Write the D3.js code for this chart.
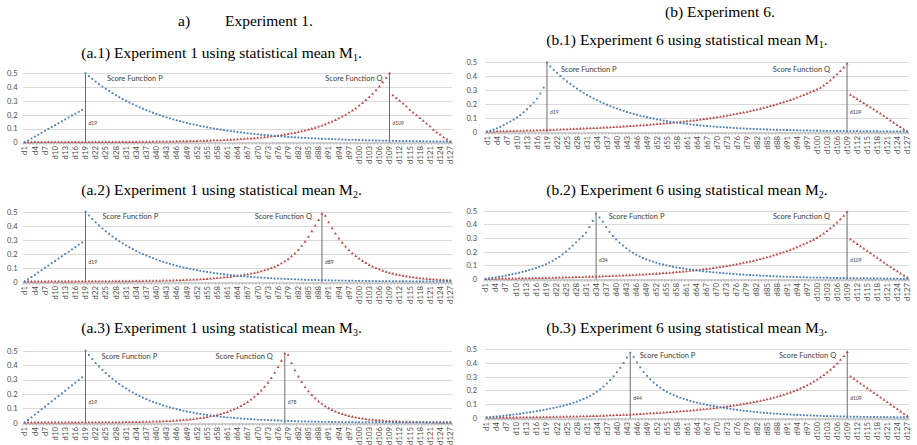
<!DOCTYPE html>
<html><head><meta charset="utf-8">
<script src="https://cdn.jsdelivr.net/npm/d3@7/dist/d3.min.js"></script>
<style>body{margin:0;background:#fff}svg{display:block}</style>
</head><body>
<svg id="c" width="917" height="445"></svg>
<script>
const categories = [
"d1","d2","d3","d4","d5","d6","d7","d8","d9","d10",
"d11","d12","d13","d14","d15","d16","d17","d18","d19","d20",
"d21","d22","d23","d24","d25","d26","d27","d28","d29","d30",
"d31","d32","d33","d34","d35","d36","d37","d38","d39","d40",
"d41","d42","d43","d44","d45","d46","d47","d48","d49","d50",
"d51","d52","d53","d54","d55","d56","d57","d58","d59","d60",
"d61","d62","d63","d64","d65","d66","d67","d68","d69","d70",
"d71","d72","d73","d74","d75","d76","d77","d78","d79","d80",
"d81","d82","d83","d84","d85","d86","d87","d88","d89","d90",
"d91","d92","d93","d94","d95","d96","d97","d98","d99","d100",
"d101","d102","d103","d104","d105","d106","d107","d108","d109","d110",
"d111","d112","d113","d114","d115","d116","d117","d118","d119","d120",
"d121","d122","d123","d124","d125","d126","d127"];

// (a.1) Experiment 1, M1
const A1P = [0.000,0.014,0.028,0.041,0.055,0.069,0.083,0.097,0.111,0.124,0.138,0.152,0.166,0.180,0.194,0.207,0.221,0.235,
0.500,0.479,0.459,0.440,0.422,0.404,0.388,0.372,0.356,0.341,
0.327,0.314,0.301,0.288,0.276,0.265,0.254,0.243,0.233,0.224,
0.214,0.205,0.197,0.189,0.181,0.173,0.166,0.159,0.153,0.146,
0.140,0.134,0.129,0.124,0.118,0.114,0.109,0.104,0.100,0.096,
0.092,0.088,0.084,0.081,0.078,0.074,0.071,0.068,0.065,0.063,
0.060,0.058,0.055,0.053,0.051,0.049,0.047,0.045,0.043,0.041,
0.039,0.038,0.036,0.035,0.033,0.032,0.031,0.029,0.028,0.027,
0.026,0.025,0.024,0.023,0.022,0.021,0.020,0.019,0.018,0.018,
0.017,0.016,0.016,0.015,0.014,0.014,0.013,0.013,0.012,0.012,
0.011,0.011,0.010,0.010,0.009,0.009,0.009,0.008,0.008,0.008,
0.007,0.007,0.007,0.006,0.006,0.006,0.006,0.005,0.005];
const A1Q = [0.000,0.000,0.000,0.001,0.001,0.001,0.001,0.001,
0.001,0.001,0.001,0.001,0.001,0.001,0.001,0.001,0.001,0.001,0.001,0.001,0.001,0.001,
0.002,0.002,0.002,0.002,0.002,0.002,0.002,0.002,0.002,0.002,0.002,
0.002,0.003,0.003,0.003,0.003,
0.004,0.004,0.004,0.004,0.005,0.005,0.005,0.006,0.006,0.007,0.007,
0.008,0.008,0.009,0.010,0.010,0.011,0.012,0.013,0.014,0.014,
0.016,0.017,0.018,0.019,0.021,0.022,0.024,0.026,0.027,0.029,
0.032,0.034,0.036,0.039,0.042,0.045,0.048,0.052,0.056,0.060,
0.064,0.069,0.074,0.079,0.085,0.092,0.098,0.105,0.113,0.121,
0.130,0.140,0.150,0.161,0.173,0.186,0.199,0.214,0.230,0.246,
0.265,0.284,0.305,0.327,0.351,0.377,0.404,0.434,0.466,0.500,
0.340,0.320,0.300,0.280,0.260,0.235,0.215,0.195,0.175,0.155,0.135,0.115,0.090,0.070,0.055,0.035,0.020,0.005];

// (a.2) Experiment 1, M2
const A2P = [0.000,0.016,0.033,0.049,0.066,0.082,0.099,0.115,0.132,0.148,0.165,0.181,0.198,0.214,0.231,0.247,0.264,0.280,
0.500,0.473,0.448,0.424,0.402,0.380,0.360,0.341,0.323,0.306,
0.289,0.274,0.259,0.246,0.233,0.220,0.208,0.197,0.187,0.177,
0.168,0.159,0.150,0.142,0.135,0.127,0.121,0.114,0.108,0.102,
0.097,0.092,0.087,0.082,0.078,0.074,0.070,0.066,0.062,0.059,
0.056,0.053,0.050,0.047,0.045,0.043,0.040,0.038,0.036,0.034,
0.032,0.031,0.029,0.028,0.026,0.025,0.023,0.022,0.021,0.020,
0.019,0.018,0.017,0.016,0.015,0.014,0.013,0.013,0.012,0.011,
0.011,0.010,0.010,0.009,0.009,0.008,0.008,0.007,0.007,0.007,
0.006,0.006,0.006,0.005,0.005,0.005,0.004,0.004,0.004,0.004,
0.004,0.003,0.003,0.003,0.003,0.003,0.003,0.002,0.002,0.002,
0.002,0.002,0.002,0.002,0.002,0.002,0.002,0.002,0.002];
const A2Q = [0.001,0.001,0.001,0.001,0.001,0.001,0.001,0.001,0.001,0.001,0.001,0.001,0.001,0.001,0.001,0.001,
0.002,0.002,0.002,0.002,0.002,0.002,0.002,0.002,0.002,0.002,
0.002,0.003,0.003,0.003,0.003,0.003,0.004,0.004,0.004,0.004,0.005,0.005,0.005,
0.006,0.006,0.007,0.007,0.008,0.008,0.009,0.010,0.011,0.012,
0.013,0.014,0.015,0.016,0.018,0.019,0.021,0.023,0.025,0.027,
0.030,0.032,0.035,0.038,0.041,0.044,0.048,0.052,0.057,0.062,
0.067,0.073,0.080,0.088,0.096,0.106,0.117,0.130,0.145,0.160,
0.180,0.200,0.225,0.255,0.285,0.320,0.360,0.400,0.440,0.485,
0.470,0.423,0.381,0.343,0.308,0.278,0.250,0.225,0.202,0.182,
0.164,0.147,0.133,0.119,0.107,0.097,0.087,0.078,0.070,0.063,
0.057,0.051,0.046,0.042,0.037,0.034,0.030,0.027,0.024,0.022,
0.020,0.018,0.016,0.014,0.013,0.012,0.010,0.009];

// (a.3) Experiment 1, M3
const A3P = [0.000,0.019,0.037,0.056,0.074,0.093,0.111,0.130,0.148,0.167,0.185,0.204,0.222,0.241,0.259,0.278,0.296,0.315,
0.500,0.470,0.442,0.415,0.390,0.367,0.345,0.324,0.305,0.286,
0.269,0.253,0.238,0.223,0.210,0.197,0.185,0.174,0.164,0.154,
0.145,0.136,0.128,0.120,0.113,0.106,0.100,0.094,0.088,0.083,
0.078,0.073,0.069,0.064,0.061,0.057,0.054,0.050,0.047,0.045,
0.042,0.039,0.037,0.035,0.033,0.031,0.029,0.027,0.026,0.024,
0.023,0.021,0.020,0.019,0.018,0.017,0.016,0.015,0.014,0.013,
0.012,0.011,0.011,0.010,0.009,0.009,0.008,0.008,0.007,0.007,
0.006,0.006,0.006,0.005,0.005,0.005,0.004,0.004,0.004,0.004,
0.003,0.003,0.003,0.003,0.003,0.003,0.003,0.003,0.003,0.003,
0.003,0.002,0.002,0.002,0.002,0.002,0.002,0.002,0.002,0.002,
0.002,0.002,0.002,0.002,0.002,0.002,0.002,0.002,0.002];
const A3Q = [0.001,0.001,0.001,0.001,0.001,0.001,0.001,0.001,0.001,0.001,0.001,0.001,0.001,0.001,0.001,0.001,0.001,
0.002,0.002,0.002,0.002,0.002,0.002,0.002,0.002,0.002,0.002,0.002,0.002,
0.002,0.003,0.003,0.003,0.004,0.004,0.005,0.005,0.006,0.007,0.007,
0.008,0.009,0.010,0.011,0.013,0.014,0.016,0.018,0.020,0.022,
0.025,0.028,0.031,0.034,0.038,0.043,0.048,0.053,0.059,0.066,
0.074,0.083,0.092,0.103,0.115,0.128,0.143,0.160,0.179,0.199,
0.222,0.248,0.277,0.309,0.345,0.385,0.430,0.480,
0.470,0.413,0.363,0.319,0.281,0.247,0.217,0.191,0.168,0.147,
0.130,0.114,0.100,0.088,0.077,0.068,0.060,0.053,0.046,0.041,
0.036,0.031,0.028,0.024,0.021,0.019,0.017,0.015,0.013,0.011,
0.010,0.009,0.008,0.007,0.006,0.005,0.005,0.004,0.004,0.003,
0.003,0.002,0.002,0.002,0.002,0.001,0.001,0.001,0.001];

// (b.1) Experiment 6, M1
const B1P = [0.000,0.008,0.016,0.024,0.035,0.047,0.060,0.073,0.087,0.102,0.120,0.140,0.162,0.186,0.210,0.238,0.275,0.318,
0.500,
0.470,0.446,0.424,0.402,0.382,0.362,0.344,0.327,0.310,0.294,
0.280,0.265,0.252,0.239,0.227,0.216,0.205,0.194,0.184,0.175,
0.166,0.158,0.150,0.142,0.135,0.128,0.122,0.115,0.110,0.104,
0.099,0.094,0.089,0.085,0.080,0.076,0.072,0.069,0.065,0.062,
0.059,0.056,0.053,0.050,0.048,0.045,0.043,0.041,0.039,0.037,
0.035,0.033,0.032,0.030,0.029,0.027,0.026,0.024,0.023,0.022,
0.021,0.020,0.019,0.018,0.017,0.016,0.015,0.014,0.014,0.013,
0.012,0.012,0.011,0.011,0.010,0.009,0.009,0.009,0.008,0.008,
0.007,0.007,0.006,0.006,0.006,0.005,0.005,0.005,0.005,0.004,
0.004,0.004,0.004,0.003,0.003,0.003,0.003,0.003,0.003,0.002,
0.002,0.002,0.002,0.002,0.002,0.002,0.002,0.001];
const B1Q = [0.000,0.001,0.001,0.002,0.002,0.003,0.003,0.004,0.004,0.005,
0.005,0.006,0.007,0.007,0.008,0.009,0.009,0.010,0.011,0.012,
0.013,0.014,0.015,0.016,0.017,0.018,0.019,0.020,0.021,0.022,
0.023,0.024,0.025,0.026,0.027,0.029,0.030,0.031,0.033,0.034,
0.035,0.037,0.038,0.040,0.041,0.043,0.045,0.046,0.048,0.050,
0.052,0.054,0.056,0.058,0.060,0.062,0.065,0.067,0.070,0.072,
0.075,0.078,0.080,0.083,0.086,0.090,0.093,0.096,0.100,0.103,
0.107,0.111,0.115,0.119,0.124,0.128,0.133,0.138,0.143,0.148,
0.154,0.159,0.165,0.171,0.177,0.184,0.190,0.197,0.205,0.212,
0.220,0.228,0.236,0.245,0.254,0.263,0.273,0.283,0.293,0.304,
0.315,0.332,0.350,0.370,0.391,0.413,0.437,0.462,0.490,
0.265,0.250,0.235,0.220,0.205,0.190,0.175,0.160,0.145,0.130,0.113,0.097,0.080,0.064,0.048,0.032,0.017,0.003];

// (b.2) Experiment 6, M2
const B2P = [0.000,0.004,0.008,0.012,0.016,0.020,0.025,0.030,0.035,0.040,
0.046,0.052,0.058,0.065,0.072,0.080,0.089,0.098,0.108,0.120,
0.133,0.147,0.162,0.180,0.200,0.222,0.245,0.268,0.290,0.315,
0.340,0.380,0.425,0.480,
0.450,0.420,0.380,0.345,0.315,0.290,0.265,0.245,0.225,0.207,
0.192,0.178,0.165,0.154,0.144,0.135,0.127,0.119,0.112,0.106,
0.100,0.095,0.090,0.085,0.081,0.077,0.073,0.070,0.066,0.063,
0.060,0.057,0.054,0.052,0.049,0.047,0.045,0.043,0.041,0.039,
0.037,0.035,0.033,0.032,0.030,0.029,0.027,0.026,0.025,0.024,
0.023,0.021,0.020,0.019,0.018,0.017,0.017,0.016,0.015,0.014,
0.013,0.013,0.012,0.011,0.011,0.010,0.010,0.009,0.009,0.008,
0.008,0.007,0.007,0.007,0.006,0.006,0.006,0.005,0.005,0.005,
0.005,0.004,0.004,0.004,0.004,0.003,0.003,0.003,0.003,0.003,
0.002,0.002,0.002];
const B2Q = [0.000,0.001,0.001,0.001,0.002,0.002,0.002,0.003,0.003,0.003,
0.004,0.004,0.004,0.005,0.005,0.006,0.006,0.007,0.007,0.008,
0.008,0.009,0.010,0.010,0.011,0.011,0.012,0.013,0.013,0.014,
0.015,0.016,0.016,0.017,0.018,0.019,0.020,0.021,0.022,0.023,
0.024,0.025,0.026,0.027,0.028,0.030,0.031,0.032,0.034,0.035,
0.037,0.038,0.040,0.042,0.043,0.045,0.047,0.050,0.052,0.054,
0.056,0.059,0.061,0.064,0.067,0.070,0.073,0.076,0.080,0.083,
0.087,0.090,0.094,0.098,0.103,0.107,0.112,0.117,0.122,0.127,
0.133,0.139,0.145,0.151,0.158,0.164,0.172,0.179,0.187,0.195,
0.204,0.213,0.222,0.232,0.242,0.253,0.264,0.275,0.287,0.300,
0.315,0.332,0.350,0.370,0.390,0.412,0.436,0.462,0.490,
0.290,0.273,0.256,0.239,0.222,0.205,0.188,0.171,0.154,0.137,0.120,0.103,0.087,0.071,0.055,0.039,0.024,0.010];

// (b.3) Experiment 6, M3
const B3P = [0.002,0.004,0.007,0.009,0.011,0.014,0.017,0.020,0.023,0.026,
0.029,0.033,0.037,0.040,0.044,0.048,0.052,0.057,0.061,0.066,
0.071,0.076,0.082,0.088,0.095,0.102,0.110,0.118,0.127,0.137,
0.148,0.160,0.174,0.190,0.208,0.228,0.250,0.275,0.302,0.332,
0.365,0.400,0.440,0.475,
0.445,0.405,0.368,0.335,0.306,0.280,0.257,0.237,0.219,0.203,
0.189,0.176,0.165,0.155,0.146,0.138,0.130,0.123,0.116,0.110,
0.104,0.099,0.094,0.089,0.085,0.080,0.076,0.072,0.069,0.065,
0.061,0.058,0.054,0.051,0.048,0.046,0.043,0.041,0.038,0.036,
0.034,0.032,0.030,0.029,0.027,0.025,0.024,0.023,0.021,0.020,
0.019,0.018,0.017,0.016,0.015,0.014,0.013,0.012,0.012,0.011,
0.010,0.010,0.009,0.009,0.008,0.008,0.007,0.007,0.006,0.006,
0.006,0.005,0.005,0.005,0.004,0.004,0.004,0.004,0.003,0.003,
0.003,0.003,0.003];
const B3Q = [0.000,0.000,0.000,0.000,0.000,0.001,0.001,0.001,0.001,0.001,
0.002,0.002,0.002,0.002,0.003,0.003,0.003,0.004,0.004,0.004,
0.005,0.005,0.006,0.006,0.007,0.007,0.008,0.008,0.009,0.010,
0.010,0.011,0.012,0.012,0.013,0.014,0.015,0.016,0.017,0.018,
0.019,0.020,0.021,0.022,0.024,0.025,0.026,0.028,0.029,0.031,
0.032,0.034,0.035,0.037,0.039,0.040,0.042,0.044,0.046,0.048,
0.050,0.052,0.054,0.057,0.059,0.061,0.064,0.066,0.069,0.072,
0.075,0.078,0.081,0.085,0.088,0.092,0.096,0.100,0.104,0.108,
0.113,0.118,0.123,0.128,0.134,0.140,0.146,0.153,0.160,0.167,
0.175,0.184,0.193,0.202,0.213,0.224,0.236,0.249,0.263,0.278,
0.294,0.311,0.330,0.350,0.372,0.396,0.422,0.450,0.480,
0.300,0.283,0.266,0.249,0.232,0.215,0.198,0.181,0.164,0.147,0.130,0.113,0.096,0.079,0.062,0.045,0.028,0.012];

const peakP = ["d19","d19","d19","d19","d34","d44"];
const peakQ = ["d109","d89","d78","d109","d109","d109"];
const yTicks = [0, 0.1, 0.2, 0.3, 0.4, 0.5];
const seriesNames = ["Score Function P", "Score Function Q"];
const panelTitles = [
  ["(a.1) Experiment 1 using statistical mean M", "1", "."],
  ["(a.2) Experiment 1 using statistical mean M", "2", "."],
  ["(a.3) Experiment 1 using statistical mean M", "3", "."],
  ["(b.1) Experiment 6 using statistical mean M", "1", "."],
  ["(b.2) Experiment 6 using statistical mean M", "2", "."],
  ["(b.3) Experiment 6 using statistical mean M", "3", "."]
];
const seriesP = [A1P, A2P, A3P, B1P, B2P, B3P];
const seriesQ = [A1Q, A2Q, A3Q, B1Q, B2Q, B3Q];

// layout (pixel geometry)
const layout = [
  {l:23,   r:452, t:73.3,  b:142.3, yl:17.5, tx:221.5, ty:58,    pdx:21.5, pv:0.46,  qdx:-7},
  {l:23,   r:452, t:211.7, b:281.7, yl:17.5, tx:221.5, ty:195,   pdx:17,   pv:0.47,  qdx:-10},
  {l:23,   r:452, t:350.7, b:422.7, yl:17.5, tx:221.5, ty:332.5, pdx:16,   pv:0.463, qdx:-12},
  {l:485.3,r:908.7,t:62.3, b:131.7, yl:477,  tx:687,   ty:44.5,  pdx:14,   pv:0.452, qdx:-17},
  {l:484,  r:909, t:210.7, b:279,   yl:477,  tx:687,   ty:195,   pdx:12.7, pv:0.459, qdx:-17},
  {l:485,  r:909, t:349.3, b:417.7, yl:477,  tx:687,   ty:333,   pdx:9.5,  pv:0.458, qdx:-11}
];

const svg = d3.select("#c");
const serif = "'Liberation Serif','Times New Roman',serif";
const sans = "Lato, 'Open Sans', sans-serif";
const blue = "#4A7EBB", red = "#BE4B48";

// headers
svg.append("text").attr("x",178).attr("y",25.5).attr("font-family",serif).attr("font-size",15.5).text("a)");
svg.append("text").attr("x",225).attr("y",25.5).attr("font-family",serif).attr("font-size",15.5).text("Experiment 1.");
svg.append("text").attr("x",665).attr("y",16.5).attr("font-family",serif).attr("font-size",15.5).text("(b) Experiment 6.");

layout.forEach((L, i) => {
  const g = svg.append("g");
  const P = seriesP[i], Q = seriesQ[i];
  const x = d3.scaleBand().domain(categories).range([L.l, L.r]).padding(0);
  const y = d3.scaleLinear().domain([0, 0.5]).range([L.b, L.t]);
  const bw = x.bandwidth();
  const cx = d => x(d) + bw / 2;

  // title
  const t = g.append("text").attr("x", L.tx).attr("y", L.ty).attr("text-anchor","middle")
    .attr("font-family", serif).attr("font-size", 15.5).attr("fill","#000");
  t.append("tspan").text(panelTitles[i][0]);
  t.append("tspan").attr("font-size", 10).attr("dy", 3).text(panelTitles[i][1]);
  t.append("tspan").attr("dy", -3).text(panelTitles[i][2]);

  // gridlines
  g.selectAll("line.grid").data(yTicks.filter(v => v > 0)).join("line").attr("class","grid")
    .attr("x1", L.l).attr("x2", L.r)
    .attr("y1", v => Math.round(y(v)) + 0.5).attr("y2", v => Math.round(y(v)) + 0.5)
    .attr("stroke", "#d9d9d9").attr("stroke-width", 1);

  // y axis labels
  const ya = g.append("g").attr("transform", `translate(${L.yl},0)`)
    .call(d3.axisLeft(y).tickValues(yTicks).tickSize(0).tickPadding(0)
      .tickFormat(d => d === 0 ? "0" : d3.format(".1f")(d)));
  ya.select(".domain").remove();
  ya.selectAll("text").attr("font-family", sans).attr("font-size", 7.5).attr("fill", "#4d4d4d");

  // x axis
  const by = Math.round(y(0)) + 0.5;
  const xa = g.append("g").attr("transform", `translate(0,${by})`)
    .call(d3.axisBottom(x).tickValues(categories.filter((d, k) => k % 3 === 0)).tickSize(0).tickSizeOuter(0));
  xa.select(".domain").attr("stroke", "#a6a6a6");
  xa.selectAll("text").attr("transform", "rotate(-90)").attr("text-anchor", "end")
    .attr("x", -3.5).attr("y", 0).attr("dy", "0.35em")
    .attr("font-family", sans).attr("font-size", 7.8).attr("fill", "#4d4d4d");
  // minor tick marks at category boundaries
  g.selectAll("line.mt").data(categories.concat(["__end"])).join("line").attr("class","mt")
    .attr("x1", d => d === "__end" ? L.r : x(d)).attr("x2", d => d === "__end" ? L.r : x(d))
    .attr("y1", by).attr("y2", by + 2.5).attr("stroke", "#a6a6a6").attr("stroke-width", 0.6);

  // vertical peak lines
  [peakP[i], peakQ[i]].forEach(pk => {
    const k = categories.indexOf(pk);
    const top = Math.max(P[k], Q[k]);
    g.append("line").attr("x1", cx(pk)).attr("x2", cx(pk)).attr("y1", by).attr("y2", y(top))
      .attr("stroke", "#6d6d6d").attr("stroke-width", 1);
    g.append("text").attr("x", cx(pk) + 3).attr("y", y(0.14)).attr("dy", "0.35em")
      .attr("font-family", sans).attr("font-size", 5).attr("fill", "#404040").text(pk);
  });

  // series labels
  g.append("text").attr("x", cx(peakP[i]) + L.pdx).attr("y", y(L.pv)).attr("dy", "0.35em")
    .attr("font-family", sans).attr("font-size", 7.5).attr("fill", "#404040").text(seriesNames[0]);
  g.append("text").attr("x", cx(peakQ[i]) + L.qdx).attr("y", y(L.pv)).attr("dy", "0.35em")
    .attr("text-anchor", "end")
    .attr("font-family", sans).attr("font-size", 7.5).attr("fill", "#404040").text(seriesNames[1]);

  // markers
  const triangle = d3.symbol().type(d3.symbolTriangle).size(3.8);
  const square = d3.symbol().type(d3.symbolSquare).size(3.4);
  g.selectAll("path.q").data(categories.map((c, k) => [c, Q[k]]).filter(d => d[1] !== undefined))
    .join("path").attr("class", "q").attr("d", triangle)
    .attr("transform", d => `translate(${cx(d[0])},${y(d[1])})`).attr("fill", red);
  g.selectAll("path.p").data(categories.map((c, k) => [c, P[k]]).filter(d => d[1] !== undefined))
    .join("path").attr("class", "p").attr("d", square)
    .attr("transform", d => `translate(${cx(d[0])},${y(d[1])})`).attr("fill", blue);
});
</script>
</body></html>
